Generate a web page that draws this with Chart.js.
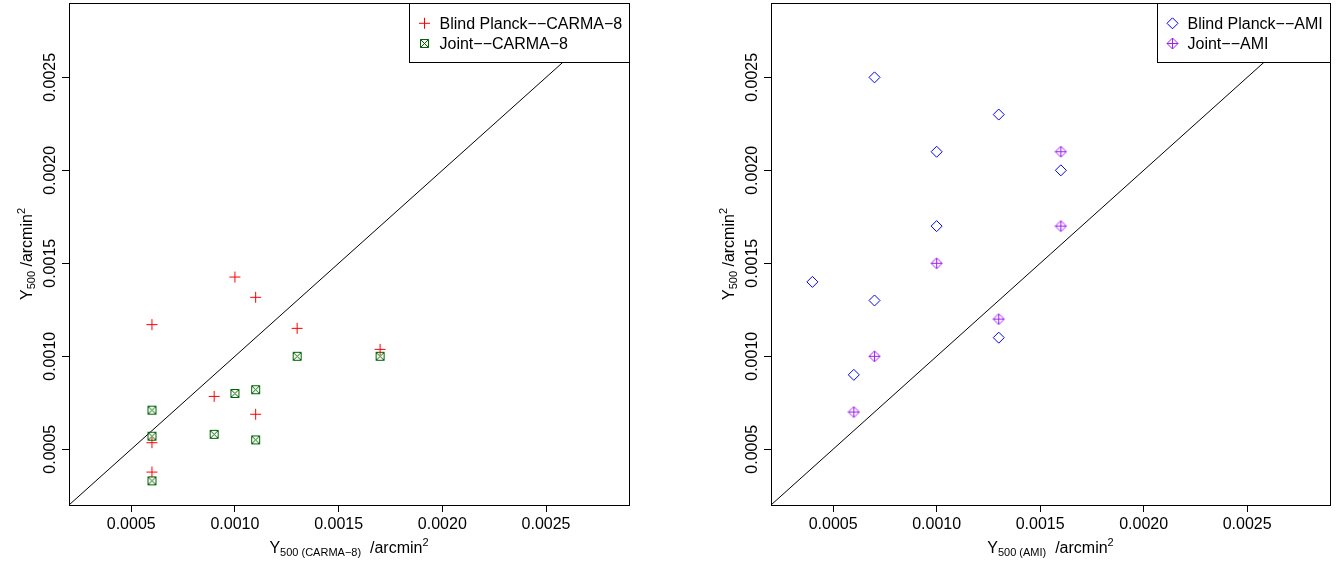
<!DOCTYPE html>
<html><head><meta charset="utf-8">
<script src="https://cdn.jsdelivr.net/npm/chart.js@4/dist/chart.umd.min.js"></script>
<style>
html,body{margin:0;padding:0;background:#fff;width:1344px;height:564px;overflow:hidden}
canvas{position:absolute;top:0}
#c1{left:0}
#c2{left:671px}
</style></head><body>
<canvas id="c1" width="672" height="564"></canvas>
<canvas id="c2" width="672" height="564"></canvas>
<script>
// ---- data ----
const carmaX      = [0.0006, 0.0006, 0.0006, 0.0009, 0.0010, 0.0011, 0.0011, 0.0013, 0.0017];
const blindCarma  = [0.00117, 0.000535, 0.000377, 0.000784, 0.001426, 0.001317, 0.000688, 0.00115, 0.001037];
const jointCarma  = [0.00071, 0.00057, 0.00033, 0.00058, 0.00080, 0.00082, 0.00055, 0.00100, 0.00100];

const blindAmiX   = [0.0004, 0.0006, 0.0007, 0.0007, 0.0010, 0.0010, 0.0013, 0.0013, 0.0016];
const blindAmi    = [0.0014, 0.0009, 0.0025, 0.0013, 0.0021, 0.0017, 0.0023, 0.0011, 0.0020];
const jointAmiX   = [0.0006, 0.0007, 0.0010, 0.0013, 0.0016, 0.0016];
const jointAmi    = [0.0007, 0.0010, 0.0015, 0.0012, 0.0021, 0.0017];

const tickValues  = [0.0005, 0.0010, 0.0015, 0.0020, 0.0025];
const axisRange   = [0.0002, 0.0029];
const identityEnds = [0.0002, 0.0029];

const labelsCarma = ['Blind Planck\u2212\u2212CARMA\u22128', 'Joint\u2212\u2212CARMA\u22128'];
const labelsAmi   = ['Blind Planck\u2212\u2212AMI', 'Joint\u2212\u2212AMI'];
const xSubCarma = '500 (CARMA\u22128)';
const xSubAmi   = '500 (AMI)';

// ---- styling ----
const FONT = '"Liberation Sans", Arial, Helvetica, sans-serif';

function makeMarker(kind, color) {
  const c = document.createElement('canvas'); c.width = 13; c.height = 13;
  const g = c.getContext('2d'); g.strokeStyle = color; g.lineWidth = 1;
  g.beginPath();
  if (kind === 'squareX') {
    g.rect(2.5, 2.5, 8, 8);
    g.moveTo(2.5, 2.5); g.lineTo(10.5, 10.5);
    g.moveTo(10.5, 2.5); g.lineTo(2.5, 10.5);
  } else {
    g.moveTo(6.5, 1); g.lineTo(12, 6.5); g.lineTo(6.5, 12); g.lineTo(1, 6.5); g.closePath();
    g.moveTo(6.5, 1); g.lineTo(6.5, 12); g.moveTo(1, 6.5); g.lineTo(12, 6.5);
  }
  g.stroke();
  return c;
}
const greenSq = makeMarker('squareX', '#006400');
const purpleDia = makeMarker('diamondPlus', '#A020F0');

function drawMarker(ctx, ds, x, y) {
  const st = ds.pointStyle, r = ds.pointRadius;
  ctx.save();
  if (typeof st === 'object') {
    ctx.drawImage(st, Math.round(x - st.width / 2), Math.round(y - st.height / 2));
  } else {
    ctx.strokeStyle = ds.borderColor; ctx.lineWidth = 1; ctx.beginPath();
    if (st === 'cross') {
      ctx.moveTo(x - r, y); ctx.lineTo(x + r, y); ctx.moveTo(x, y - r); ctx.lineTo(x, y + r);
    } else {
      ctx.moveTo(x, y - r); ctx.lineTo(x + r, y); ctx.lineTo(x, y + r); ctx.lineTo(x - r, y); ctx.closePath();
    }
    ctx.stroke();
  }
  ctx.restore();
}

function drawRich(ctx, parts, cx, cy, rotate) {
  ctx.save();
  ctx.translate(cx, cy);
  if (rotate) ctx.rotate(-Math.PI / 2);
  ctx.fillStyle = '#000'; ctx.textBaseline = 'alphabetic'; ctx.textAlign = 'left';
  let total = 0;
  const ws = parts.map(p => { ctx.font = p.size + 'px ' + FONT; const w = ctx.measureText(p.t).width; total += w; return w; });
  let x = -total / 2;
  parts.forEach((p, i) => { ctx.font = p.size + 'px ' + FONT; ctx.fillText(p.t, x, p.dy); x += ws[i]; });
  ctx.restore();
}

const panelPlugin = {
  id: 'panel',
  afterDatasetsDraw(chart) {
    const ctx = chart.ctx, a = chart.chartArea;
    const items = chart.data.datasets.filter(d => d.label);
    ctx.save();
    ctx.font = '16px ' + FONT;
    const tw = Math.max(...items.map(d => ctx.measureText(d.label).width));
    const w = Math.round(30.5 + tw + 7), h = 59;
    const left = a.right - w, top = a.top;
    ctx.fillStyle = '#fff'; ctx.fillRect(left, top, w, h);
    ctx.strokeStyle = '#000'; ctx.lineWidth = 1;
    ctx.strokeRect(Math.round(left) + 0.5, Math.round(top) + 0.5, w, h);
    items.forEach((d, i) => {
      const cy = top + 20.3 + i * 20;
      drawMarker(ctx, d, left + 15.5, cy);
      ctx.fillStyle = '#000'; ctx.textBaseline = 'middle'; ctx.textAlign = 'left';
      ctx.fillText(d.label, left + 30.5, cy + 1);
    });
    ctx.restore();
  },
  afterDraw(chart, args, opts) {
    const ctx = chart.ctx, a = chart.chartArea;
    ctx.save();
    ctx.strokeStyle = '#000'; ctx.lineWidth = 1;
    ctx.strokeRect(Math.round(a.left) + 0.5, Math.round(a.top) + 0.5, Math.round(a.right - a.left), Math.round(a.bottom - a.top));
    // y tick labels (rotated, as in the reference)
    const ys = chart.scales.y;
    ctx.fillStyle = '#000'; ctx.font = '16px ' + FONT; ctx.textAlign = 'center'; ctx.textBaseline = 'alphabetic';
    ys.ticks.forEach(t => {
      const p = ys.getPixelForValue(t.value);
      ctx.save(); ctx.translate(a.left - 14.5, p); ctx.rotate(-Math.PI / 2);
      ctx.fillText(t.value.toFixed(4), 0, 0); ctx.restore();
    });
    ctx.restore();
    // axis titles
    drawRich(ctx, [
      {t: 'Y', size: 16, dy: 0}, {t: opts.xSub, size: 11, dy: 3},
      {t: '  /arcmin', size: 16, dy: 0}, {t: '2', size: 11, dy: -7}
    ], (a.left + a.right) / 2, 553, false);
    drawRich(ctx, [
      {t: 'Y', size: 16, dy: 0}, {t: '500', size: 11, dy: 3},
      {t: ' /arcmin', size: 16, dy: 0}, {t: '2', size: 11, dy: -7}
    ], a.left - 37, (a.top + a.bottom) / 2, true);
  }
};

function axis(isY, fitSize) {
  return {
    type: 'linear', min: axisRange[0], max: axisRange[1],
    afterBuildTicks: s => { s.ticks = tickValues.map(v => ({value: v})); },
    afterFit: s => { if (isY) s.width = fitSize; else s.height = fitSize; },
    grid: {display: true, drawOnChartArea: false, drawTicks: true, tickLength: 7, color: '#000', lineWidth: 1},
    border: {display: true, color: '#000', width: 1},
    ticks: {display: !isY, font: {family: FONT, size: 16}, color: '#000', padding: 3,
            maxRotation: 0, minRotation: 0, autoSkip: false, callback: v => v.toFixed(4)}
  };
}

function makeChart(id, sets, yWidth, padRight, xSub) {
  return new Chart(document.getElementById(id), {
    type: 'scatter',
    data: {datasets: sets.concat([{
      type: 'line', data: identityEnds.map(v => ({x: v, y: v})), borderColor: '#000',
      borderWidth: 1, pointRadius: 0, fill: false, showLine: true
    }])},
    options: {
      responsive: false, animation: false, events: [],
      layout: {autoPadding: false, padding: {left: 0, top: 3, right: padRight, bottom: 0}},
      scales: {x: axis(false, 59), y: axis(true, yWidth)},
      plugins: {legend: {display: false}, tooltip: {enabled: false}, panel: {xSub: xSub}}
    },
    plugins: [panelPlugin]
  });
}

makeChart('c1', [
  {label: labelsCarma[0], data: carmaX.map((x, i) => ({x, y: blindCarma[i]})),
   pointStyle: 'cross', pointRadius: 5.5, borderColor: '#ff0000', backgroundColor: '#ff0000', pointBorderWidth: 1},
  {label: labelsCarma[1], data: carmaX.map((x, i) => ({x, y: jointCarma[i]})),
   pointStyle: greenSq, pointRadius: 5, borderColor: '#006400', backgroundColor: '#006400'}
], 69, 43, xSubCarma);

makeChart('c2', [
  {label: labelsAmi[0], data: blindAmiX.map((x, i) => ({x, y: blindAmi[i]})),
   pointStyle: 'rectRot', pointRadius: 5.5, borderColor: '#0000ff', backgroundColor: 'rgba(0,0,0,0)', pointBorderWidth: 1},
  {label: labelsAmi[1], data: jointAmiX.map((x, i) => ({x, y: jointAmi[i]})),
   pointStyle: purpleDia, pointRadius: 5.5, borderColor: '#A020F0', backgroundColor: '#A020F0'}
], 100, 13, xSubAmi);
</script>
</body></html>
